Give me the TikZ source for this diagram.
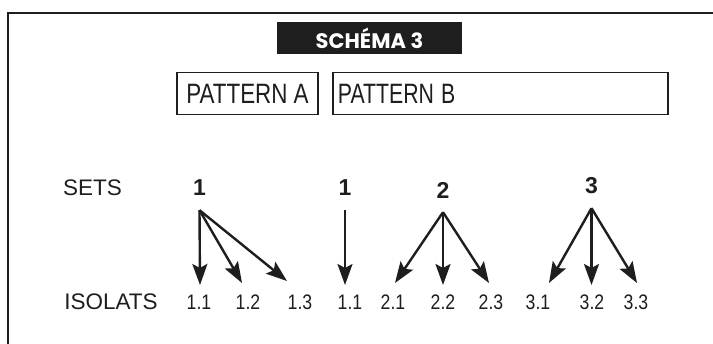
\documentclass[tikz,border=0pt]{standalone}
\usepackage{graphicx}
\usepackage{fontspec}
\setmainfont{Liberation Sans}
\newfontfamily\poppfont{Poppins}
\usetikzlibrary{arrows.meta}
\definecolor{ink}{HTML}{1E1E1E}
\newcommand{\condtxt}[2]{\scalebox{#1}[1]{#2}}
\tikzset{
  frameline/.style={line width=2pt, draw=ink},
  titlebox/.style={fill=ink, text=white, inner sep=0pt, minimum width=185pt, minimum height=32pt,
    font=\poppfont\bfseries\fontsize{21}{21}\selectfont},
  patbox/.style={draw=ink, line width=1.8pt, inner sep=0pt, minimum height=42pt, text=ink,
    font=\fontsize{28}{28}\selectfont},
  rowlabel/.style={text=ink, inner sep=0pt, font=\fontsize{22.5}{22.5}\selectfont},
  setnum/.style={text=ink, inner sep=0pt, minimum height=44pt, font=\bfseries\fontsize{23}{23}\selectfont},
  isonum/.style={text=ink, inner sep=0pt, font=\fontsize{21}{21}\selectfont},
  arr/.style={draw=ink, line width=2.4pt, -{Stealth[length=21pt,width=15pt,inset=4pt]}}
}
\begin{document}
\begin{tikzpicture}[x=1pt,y=-1pt]
\useasboundingbox (0,0) rectangle (713,344);
\fill[white] (0,0) rectangle (713,344);
\draw[frameline] (8,344) -- (8,13) -- (713,13);

\node[titlebox] (title) at (369.5,38) {SCHÉMA 3};
\node[patbox, minimum width=141pt] (pa) at (247.5,93.5) {\condtxt{0.8}{PATTERN A}};
\node[patbox, anchor=west, text width=325pt, inner xsep=5pt, align=left] (pb) at (332,93.5) {\condtxt{0.76}{PATTERN B}};

\node[rowlabel] (sets) at (92.5,188) {SETS};
\node[rowlabel] (isolats) at (111,302) {ISOLATS};

\node[setnum] (s1) at (199.5,188) {1};
\node[setnum] (s1b) at (345,188) {1};
\node[setnum] (s2) at (443,190) {2};
\node[setnum] (s3) at (591.5,186) {3};

\node[isonum] (i11) at (199,302) {\condtxt{0.84}{1.1}};
\node[isonum] (i12) at (248,302) {\condtxt{0.84}{1.2}};
\node[isonum] (i13) at (300,302) {\condtxt{0.84}{1.3}};
\node[isonum] (i11b) at (350,302) {\condtxt{0.84}{1.1}};
\node[isonum] (i21) at (393,302) {\condtxt{0.84}{2.1}};
\node[isonum] (i22) at (443,302) {\condtxt{0.84}{2.2}};
\node[isonum] (i23) at (491,302) {\condtxt{0.84}{2.3}};
\node[isonum] (i31) at (538,302) {\condtxt{0.84}{3.1}};
\node[isonum] (i32) at (592,302) {\condtxt{0.84}{3.2}};
\node[isonum] (i33) at (636,302) {\condtxt{0.84}{3.3}};

\coordinate (t11) at (200,285);
\coordinate (t12) at (242,283);
\coordinate (t13) at (287,281);
\coordinate (t11b) at (345,285);
\coordinate (t21) at (395,283);
\coordinate (t22) at (443,285);
\coordinate (t23) at (489,283);
\coordinate (t31) at (549,283);
\coordinate (t32) at (591.5,285);
\coordinate (t33) at (637,283);

\draw[arr] (s1.south) -- (t11);
\draw[arr] (s1.south) -- (t12);
\draw[arr] (s1.south) -- (t13);
\draw[arr] (s1b.south) -- (t11b);
\draw[arr] (s2.south) -- (t21);
\draw[arr] (s2.south) -- (t22);
\draw[arr] (s2.south) -- (t23);
\draw[arr] (s3.south) -- (t31);
\draw[arr] (s3.south) -- (t32);
\draw[arr] (s3.south) -- (t33);
\end{tikzpicture}
\end{document}
